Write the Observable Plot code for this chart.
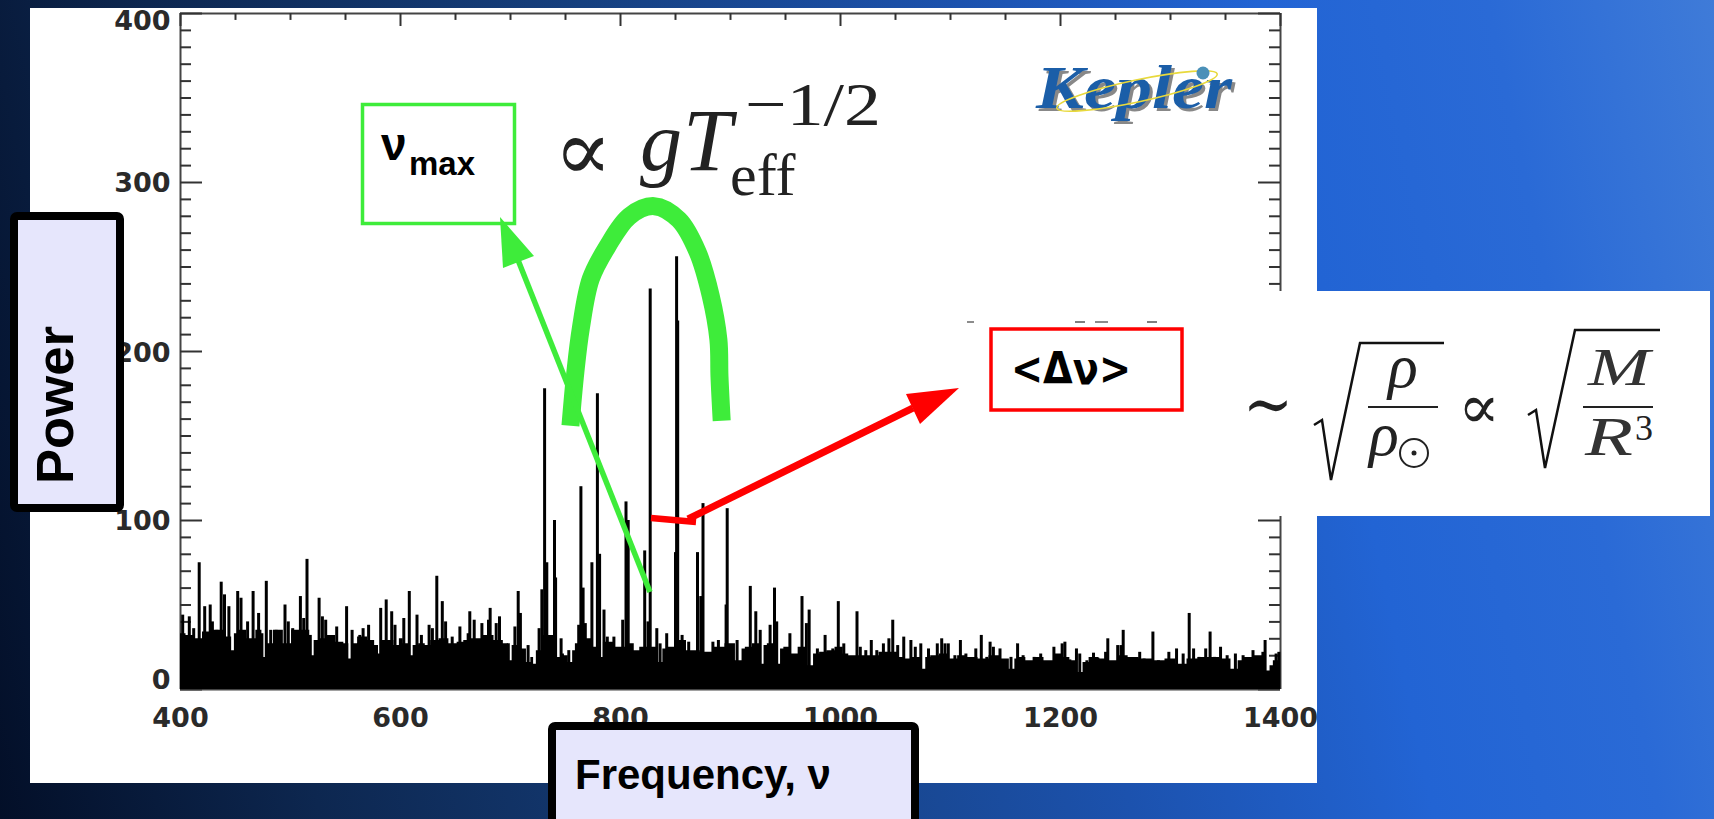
<!DOCTYPE html>
<html><head><meta charset="utf-8">
<style>
html,body{margin:0;padding:0;width:1714px;height:819px;overflow:hidden;
background:linear-gradient(78deg,#030f28 0%,#0d2750 17%,#16407f 40%,#1c52ae 60%,#2264d4 76%,#2a6ad6 88%,#3f7bd8 100%);}
#panel{position:absolute;left:30px;top:8px;width:1287px;height:775px;background:#fff;}
#chart{position:absolute;left:0;top:0;}
</style>
<script src="https://cdn.jsdelivr.net/npm/d3@7"></script>
<script src="https://cdn.jsdelivr.net/npm/@observablehq/plot@0.6"></script>
</head><body><div id="panel"></div><div id="chart"></div>
<script>
// Tick values
const xMajor=[400,600,800,1000,1200,1400];
const xMinor=[450,500,550,650,700,750,850,900,950,1050,1100,1150,1250,1300,1350];
const yMajor=[0,100,200,300,400];
const yMinor=d3.range(0,400,10).filter(d=>d%100);
// Upper limit of the solid noise floor [frequency, power]
const floorLevel=[[400,33],[410,32],[415,30],[425,34],[435,35],[445,31],[448,23],[450,33],[455,35],[465,30],[472,35],[476,19],[479,27],[490,35],[497,27],[505,35],[515,35],[520,20],[523,29],[530,30],[537,32],[545,28],[552,27],[554,18],[557,27],[565,31],[575,29],[578,26],[582,21],[585,29],[590,29],[598,26],
[600,30],[605,27],[610,20],[613,26],[620,27],[625,26],[630,29],[640,30],[648,27],[655,28],[660,29],[663,21],[666,30],[670,30],[680,32],[690,29],[697,27],[700,17],[703,26],[706,26],[712,24],[717,16],[720,19],[722,15],[725,23],[735,32],[745,19],[748,21],[750,20],[755,16],[758,23],[760,27],[770,30],[780,25],[783,19],[786,28],[790,28],
[800,25],[810,27],[815,23],[820,25],[830,25],[837,16],[840,24],[845,25],[855,29],[865,23],[880,22],[890,25],[900,27],[909,17],[912,24],[915,25],[925,27],[929,15],[932,26],[935,27],[944,15],[947,24],[950,25],[958,21],[965,25],[974,14],[977,21],[985,22],[990,23],[1000,25],[1005,21],
[1010,20],[1020,20],[1030,20],[1040,22],[1050,22],[1055,19],[1060,18],[1070,19],[1076,12],[1079,19],[1085,20],[1095,21],[1103,18],[1110,20],[1120,19],[1130,18],[1140,20],[1150,18],[1157,12],[1160,18],[1165,19],[1172,17],[1180,19],[1190,17],[1198,21],[1207,19],
[1210,17],[1219,10],[1222,16],[1230,19],[1240,18],[1247,17],[1258,20],[1265,19],[1278,18],[1290,17],[1300,18],[1310,15],[1320,18],[1330,19],[1340,19],[1350,18],[1360,12],[1363,17],[1370,19],[1380,20],[1389,11],[1392,14],[1395,17],[1400,17]];
// Spikes [frequency, power]
const spikes=[[402,44],[408,43],[412,36],[417,75],[422,49],[427,50],[429,40],[433,35],[437,63.5],[440,56],[444,49],[452,58],[455,54],[461,40],[466,58],[471,45],[474,33],[478,64],[482,35],[487,35],[495,50],[498,40],[502,36],[509,55],[512,42],[515,77],[518,32],[526,54],[529,43],[532,41],[542,37],[551,49],[556,35],[563,32],[566,36],[571,38],[582,48],[587,53],[592,46],[595,38],
[603,42],[608,58],[615,44],[619,32],[626,38],[629,36],[633,67],[638,52],[641,40],[647,31],[654,37],[661.5,33],[663,46],[667,41],[674,39],[680,41],[681.5,48],[687,39],[690,43],[698,27],[704,37],[707,58],[709,45],[716,26],[726,36],[728.5,59],[731,178],[733,75],[736,31],[740,100],[741,66],[746,30],[753,23],[762,38],[764,120],[766,60],[768,39],[774,75],[779,175],[781,80],[785,47],[788,31],[794,31],[802,41],
[805,111],[807,100],[822,82],[825,40],[827,237],[833,36],[836,27],[842,33],[850,81],[851,256],[852,218],[856,32],[862,28],[870,81],[873,55],[875,110],[884,28],[889,29],[896,50],[897,107],[906,29],[918,61],[923,46],[927,35],[936,38],[940,60],[942,40],[954,33],[965,55],[969,39],[971.5,47],[979,24],[986,32],[993,24],[998,52],[1003,27],
[1015,46],[1018,25],[1023,23],[1028,29],[1033,23],[1039,27],[1044,30],[1047.5,41],[1052,26],[1057.5,31],[1064,29],[1068,25],[1073,27],[1080,24],[1088,27],[1092,30],[1095,27],[1098,27],[1104,20],[1109,29],[1114,21],[1123,24],[1128,32],[1133,19],[1136,28],[1139,25],[1145,24],[1155,19],[1161,27],[1166,20],[1176,19],[1182,21],[1188,15],[1194,25],[1201.5,27],[1204,28],
[1208.5,17.5],[1214.5,24],[1217.5,21],[1224,17],[1230,21.5],[1234,18.5],[1241,22],[1243,30],[1252,26],[1255,26],[1257,35],[1267,18],[1272,22],[1276,18],[1284,34],[1289,17],[1298.5,22],[1305.5,24],[1311.5,21],[1317,45],[1321,24],[1326,19],[1332,24],[1336,34],[1340,19],[1345.5,25],[1351.5,20],[1359,21],[1366,20],[1375,23],[1380,19],[1384,22],[1386,29],[1396,21],[1398.5,22]];
// Hand-drawn envelope over the oscillation power excess [frequency, power]
const envelope=[[754.5,156],[759,188],[764,214],[773,243],[788,262],[808,280],[830.6,286],[853,278],[870,259],[882,233],[889,207],[890,185],[892,159]];
const labelOffset=new Map([[400,8],[300,1],[200,2],[100,1],[0,-9]]);

const mono="DejaVu Sans", sans="Liberation Sans", serif="Liberation Serif";
const tickLabel={fontFamily:mono,fontWeight:"bold",fontSize:27,fill:"#2a2a2a",stroke:"none"};

const chart=Plot.plot({
  width:1714,height:819,marginLeft:180,marginRight:434,marginTop:13,marginBottom:130,
  style:{background:"transparent",overflow:"visible"},
  x:{domain:[400,1400],axis:null},y:{domain:[0,400],axis:null},
  marks:[
    // frame
    Plot.ruleX([400,1400],{stroke:"#444",strokeWidth:2}),
    Plot.ruleY([0,400],{stroke:"#444",strokeWidth:2}),
    // x ticks on the top edge (those on the bottom edge are hidden by the noise)
    Plot.ruleX(xMajor,{y1:392.3,y2:400,stroke:"#333",strokeWidth:2}),
    Plot.ruleX(xMinor,{y1:395.9,y2:400,stroke:"#333",strokeWidth:2}),
    // y ticks left and right
    Plot.ruleY(yMajor,{x1:400,x2:420,stroke:"#333",strokeWidth:2}),
    Plot.ruleY(yMinor,{x1:400,x2:410,stroke:"#333",strokeWidth:2}),
    Plot.ruleY(yMajor,{x1:1380,x2:1400,stroke:"#333",strokeWidth:2}),
    Plot.ruleY(yMinor,{x1:1390,x2:1400,stroke:"#333",strokeWidth:2}),
    // spectrum
    Plot.areaY(floorLevel,{x:d=>d[0],y:d=>d[1],fill:"#000",curve:"step"}),
    Plot.ruleX(spikes,{x:d=>d[0],y:d=>d[1],stroke:"#000",strokeWidth:3}),
    // tick labels
    Plot.text(xMajor,{x:d=>d,y:0,text:d=>String(d),dy:29,textAnchor:"middle",...tickLabel}),
    ...yMajor.map(v=>Plot.text([v],{x:400,y:d=>d,text:d=>String(d),dx:-10,dy:labelOffset.get(v),textAnchor:"end",...tickLabel})),
    // envelope
    Plot.line(envelope,{x:d=>d[0],y:d=>d[1],stroke:"#3eec3a",strokeWidth:18,curve:"catmull-rom",strokeLinecap:"butt"})
  ]
});
document.getElementById("chart").append(chart);

// Annotations on top of the plot
const svg=d3.select(chart);
const G=svg.append("g");
const T=(x,y,str,o={})=>{const t=G.append("text").attr("x",x).attr("y",y).text(str)
  .attr("font-family",o.f||sans).attr("font-size",o.s||40).attr("font-weight",o.w||"normal")
  .attr("font-style",o.i?"italic":"normal").attr("fill",o.c||"#000").attr("text-anchor",o.a||"start");
  if(o.tl)t.attr("textLength",o.tl).attr("lengthAdjust","spacingAndGlyphs");
  if(o.r)t.attr("transform",`rotate(${o.r} ${x} ${y})`); return t;};
const R=(x,y,w,h,fill,stroke,sw,rx=0)=>G.append("rect").attr("x",x).attr("y",y).attr("width",w).attr("height",h).attr("rx",rx).attr("fill",fill).attr("stroke",stroke).attr("stroke-width",sw);
const P=(d,fill,stroke,sw)=>G.append("path").attr("d",d).attr("fill",fill||"none").attr("stroke",stroke).attr("stroke-width",sw);

// formula panel
R(960,291,750,225,"#fff","none",0);
[[967,974,"#666"],[1075,1085,"#555"],[1095,1108,"#666"],[1147,1157,"#555"]].forEach(([a,b,c])=>G.append("line").attr("x1",a).attr("x2",b).attr("y1",322).attr("y2",322).attr("stroke",c).attr("stroke-width",1.5));

// arrows
const green="#3eec3a", red="#ff0000";
P("M650 592L518 260",null,green,5.5);
P("M500 217L503 268L534 256Z",green,"none",0);
P("M651 518L696 522",null,red,6.5);
P("M688 519L913 408",null,red,7);
P("M959 388L906 394L920 424Z",red,"none",0);

// boxes
R(362.5,104.5,152,119,"none",green,3.5);
T(381,160,"ν",{s:46,w:"bold"});
T(409,175,"max",{s:33,w:"bold"});
R(991,329,191,81,"#fff",red,3.5);
T(1011,384,"<Δν>",{f:mono,s:44,w:"bold",tl:120});

// axis title boxes
R(14,216,106,292,"#e6e6fc","#000",8,3);
T(73,484,"Power",{s:52,w:"bold",r:-90,tl:158});
R(552,726,363,110,"#e6e6fc","#000",8,3);
T(575,789,"Frequency, ν",{s:42,w:"bold"});

// proportionality to g T_eff^-1/2
const ms={f:serif,c:"#222"};
T(554,180,"∝",{f:"DejaVu Serif",s:86,c:"#222"});
T(640,170,"g",{...ms,s:84,i:true});
T(683,170,"T",{...ms,s:88,i:true});
T(730,195,"eff",{...ms,s:60});
T(745,125,"−1/2",{...ms,s:62,tl:136});

// ∼ sqrt(rho/rho_sun) ∝ sqrt(M/R^3)
T(1243,428,"∼",{f:"DejaVu Serif",s:70,c:"#222",tl:50});
P("M1314 425L1322 420L1331 480L1360 343L1444 343",null,"#111",2.5);
T(1403,387,"ρ",{...ms,s:62,i:true,a:"middle"});
G.append("line").attr("x1",1368).attr("x2",1438).attr("y1",407).attr("y2",407).attr("stroke","#222").attr("stroke-width",2);
T(1384,455,"ρ",{...ms,s:62,i:true,a:"middle"});
G.append("circle").attr("cx",1414).attr("cy",453).attr("r",14).attr("fill","none").attr("stroke","#222").attr("stroke-width",2);
G.append("circle").attr("cx",1414).attr("cy",453).attr("r",2.5).attr("fill","#222");
T(1458,428,"∝",{f:"DejaVu Serif",s:62,c:"#222"});
P("M1528 415L1536 410L1545 468L1575 330L1660 330",null,"#111",2.5);
T(1588,385,"M",{...ms,s:52,i:true,tl:62,c:"#333"});
G.append("line").attr("x1",1583).attr("x2",1653).attr("y1",407).attr("y2",407).attr("stroke","#222").attr("stroke-width",2);
T(1585,455,"R",{...ms,s:54,i:true,tl:48,c:"#333"});
T(1635,440,"3",{...ms,s:36});

// Kepler logo
T(1039,111,"Kepler",{f:serif,s:62,w:"bold",i:true,c:"#888",tl:196});
T(1036,108,"Kepler",{f:serif,s:62,w:"bold",i:true,c:"#1b5ea8",tl:196});
G.append("ellipse").attr("cx",1137).attr("cy",91).attr("rx",82).attr("ry",11).attr("transform","rotate(-12 1137 91)").attr("fill","none").attr("stroke","#e8d93c").attr("stroke-width",1.6);
G.append("circle").attr("cx",1203).attr("cy",73).attr("r",6.5).attr("fill","#4a90b8");
</script></body></html>
